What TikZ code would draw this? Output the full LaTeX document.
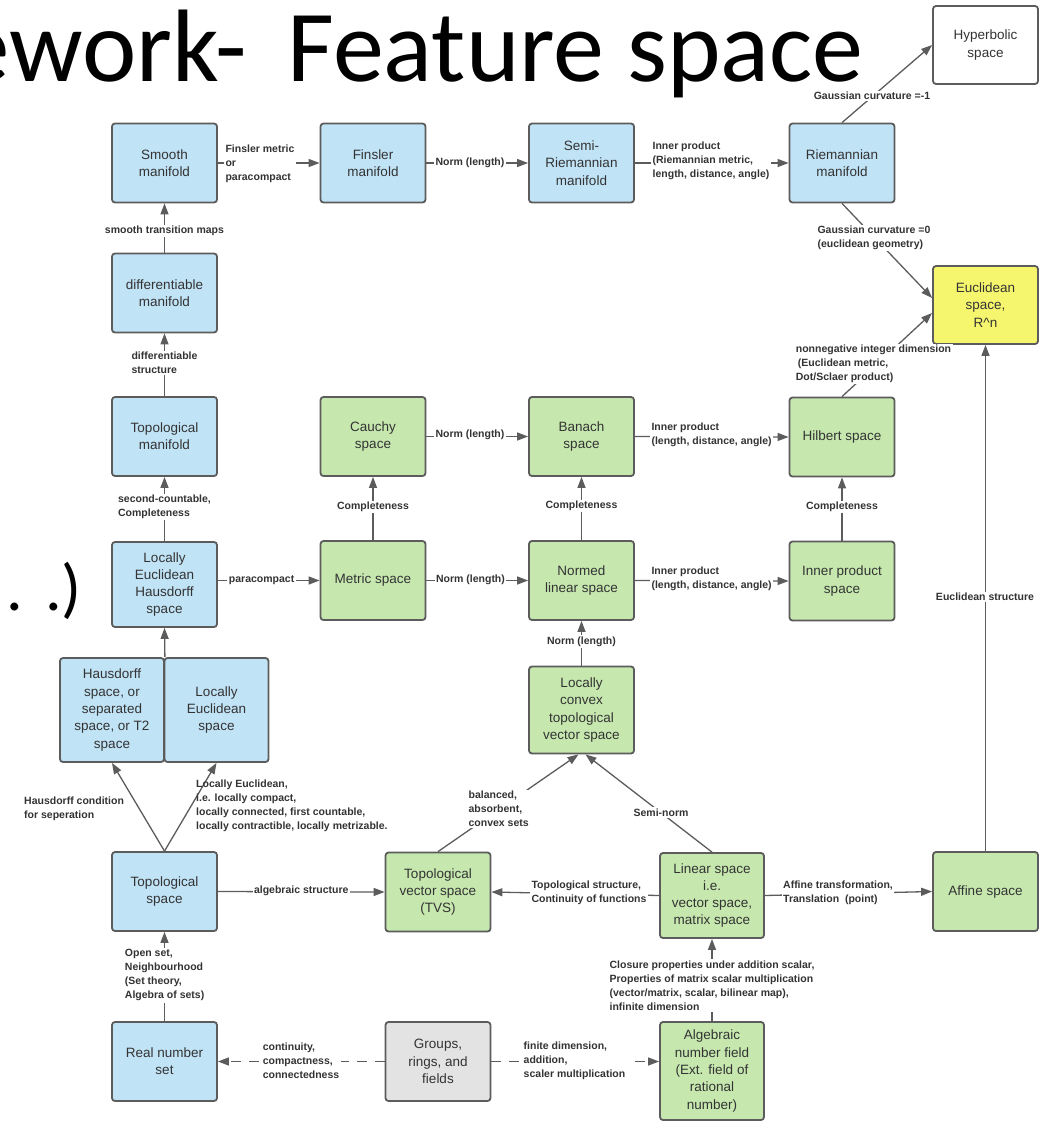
\documentclass[tikz,border=0pt]{standalone}
\usepackage{fontspec}
\setmainfont{Liberation Sans}
\newfontfamily\titlefont{Carlito}
\usetikzlibrary{arrows.meta,calc}
\definecolor{boxblue}{HTML}{C1E3F6}
\definecolor{boxgreen}{HTML}{C6E8AF}
\definecolor{boxyellow}{HTML}{F6F66E}
\definecolor{boxgray}{HTML}{E3E3E3}
\definecolor{edge}{HTML}{5C5C5C}
\definecolor{ink}{HTML}{333333}
\begin{document}
\begin{tikzpicture}[x=1pt,y=-1pt,
  box/.style={draw=edge, line width=1.8pt, rounded corners=3pt,
    minimum width=105pt, minimum height=79pt, inner sep=0pt,
    align=center, text=ink, font=\fontsize{13.5}{17.3}\selectfont},
  blue/.style={box, fill=boxblue},
  green/.style={box, fill=boxgreen},
  arr/.style={draw=edge, line width=1.3pt,
    -{Triangle[length=11pt,width=8pt]}},
  dasharr/.style={arr, dash pattern=on 10pt off 8pt},
  lbl/.style={font=\bfseries\fontsize{10.5}{14}\selectfont, text=ink,
    inner sep=1.5pt, fill=white, align=left},
  note/.style={lbl, fill=none, inner sep=0pt}
]
\useasboundingbox (0,0) rectangle (1048,1122);

% slide title and trailing text
\node[anchor=base east, inner sep=0pt,
  font=\titlefont\fontsize{103}{110}\selectfont] (title1) at (247,81)
  {ework-};
\node[anchor=base east, inner sep=0pt,
  font=\titlefont\fontsize{102}{110}\selectfont] (title2) at (864,81)
  {Feature space};
\node[anchor=base east, inner sep=0pt,
  font=\titlefont\fontsize{66}{70}\selectfont] (ellipsis) at (82,610)
  {.\,\,.)};

% manifolds
\node[blue] (smooth)  at (164.5,163) {Smooth\\manifold};
\node[blue] (finsler) at (373,163)   {Finsler\\manifold};
\node[blue] (semi)    at (581.5,163) {Semi-\\Riemannian\\manifold};
\node[blue] (riem)    at (842,163)   {Riemannian\\manifold};
\node[box, fill=white, minimum height=78pt] (hyper) at (985.5,45) {Hyperbolic\\space};
\node[blue] (diff)    at (164.5,293) {differentiable\\manifold};
\node[box, fill=boxyellow, minimum height=78pt] (eucl) at (985.5,305) {Euclidean\\space,\\R\textasciicircum n};
\node[blue] (topman)  at (164.5,436.5) {Topological\\manifold};

% metric and normed spaces
\node[green] (cauchy)  at (373,436.5)   {Cauchy\\space};
\node[green] (banach)  at (581.5,436.5) {Banach\\space};
\node[green] (hilbert) at (842,437)     {Hilbert space};
\node[blue, minimum height=85pt] (leh) at (164.5,584.5) {Locally\\Euclidean\\Hausdorff\\space};
\node[green] (metric)  at (373,580.5)   {Metric space};
\node[green] (normed)  at (581.5,580.5) {Normed\\linear space};
\node[green] (innerp)  at (842,581)     {Inner product\\space};

% local properties
\node[blue, minimum width=104pt, minimum height=104pt] (hausd) at (112,710)
  {Hausdorff\\space, or\\separated\\space, or T2\\space};
\node[blue, minimum width=104pt, minimum height=104pt] (loce) at (216.5,710)
  {Locally\\Euclidean\\space};
\node[green, minimum height=87pt] (lctvs) at (581.5,710)
  {Locally\\convex\\topological\\vector space};

% foundations
\node[blue]  (topsp)  at (164.5,891.5) {Topological\\space};
\node[green] (tvs)    at (438,892)     {Topological\\vector space\\(TVS)};
\node[green, minimum width=104pt, minimum height=85pt] (linear) at (712,895.5)
  {Linear space\\i.e.\\vector space,\\matrix space};
\node[green] (affine) at (985.5,891.5) {Affine space};
\node[blue]  (real)   at (164.5,1061.5) {Real number\\set};
\node[box, fill=boxgray] (groups) at (438,1061.5) {Groups,\\rings, and\\fields};
\node[green, minimum width=104pt, minimum height=98pt] (alg) at (712,1071)
  {Algebraic\\number field\\(Ext. field of\\rational\\number)};

% connectors along the manifold chain
\draw[arr] (smooth.east) -- (finsler.west);
\node[lbl] (l1) at (260,164) {Finsler metric\\or\\paracompact};
\draw[arr] (finsler.east) -- (semi.west);
\node[lbl] (l2) at (470,163) {Norm (length)};
\draw[arr] (semi.east) -- (riem.west);
\node[lbl] (l3) at (711,161) {Inner product\\(Riemannian metric,\\length, distance, angle)};
\draw[arr] (riem.north) -- (hyper.west);
\node[lbl] (l4) at (872,96) {Gaussian curvature =-1};
\draw[arr] (riem.south) -- ($(eucl.west)+(0,-7)$);
\node[lbl] (l5) at (874,238) {Gaussian curvature =0\\(euclidean geometry)};
\draw[arr] (hilbert.north) -- ($(eucl.west)+(0,8)$);
\node[lbl] (l6) at (873.5,364) {nonnegative integer dimension\\\hspace*{2pt}(Euclidean metric,\\Dot/Sclaer product)};
\draw[arr] (diff.north) -- (smooth.south);
\node[lbl] (l7) at (164.5,231) {smooth transition maps};
\draw[arr] (topman.north) -- (diff.south);
\node[lbl] (l8) at (164.5,363) {differentiable\\structure};
\draw[arr] (leh.north) -- (topman.south);
\node[lbl] (l9) at (164.5,507) {second-countable,\\Completeness};

% completeness and norms
\draw[arr] (metric.north) -- (cauchy.south);
\node[lbl] (l10) at (373,507) {Completeness};
\draw[arr] (normed.north) -- (banach.south);
\node[lbl] (l11) at (581.5,506) {Completeness};
\draw[arr] (innerp.north) -- (hilbert.south);
\node[lbl] (l12) at (842,507) {Completeness};
\draw[arr] (cauchy.east) -- (banach.west);
\node[lbl] (l13) at (470,435) {Norm (length)};
\draw[arr] (banach.east) -- (hilbert.west);
\node[lbl] (l14) at (711.6,435) {Inner product\\(length, distance, angle)};
\draw[arr] (leh.east |- metric.west) -- (metric.west);
\node[lbl] (l15) at (261.6,580) {paracompact};
\draw[arr] (metric.east) -- (normed.west);
\node[lbl] (l16) at (470.5,580) {Norm (length)};
\draw[arr] (normed.east) -- (innerp.west);
\node[lbl] (l17) at (711.6,578.5) {Inner product\\(length, distance, angle)};
\draw[arr] (lctvs.north) -- (normed.south);
\node[lbl] (l18) at (581.5,641.7) {Norm (length)};
\draw[arr] (affine.north) -- (eucl.south);
\node[lbl] (l19) at (985,597) {Euclidean structure};

% from topological space upwards
\draw[arr] (hausd.north east) -- (leh.south);
\draw[arr] (topsp.north) -- (hausd.south);
\node[note, anchor=west] (l20) at (24,809) {Hausdorff condition\\for seperation};
\draw[arr] (topsp.north) -- (loce.south);
\node[note, anchor=west] (l21) at (196,806) {Locally Euclidean,\\i.e. locally compact,\\locally connected, first countable,\\locally contractible, locally metrizable.};
\draw[arr] (tvs.north) -- ($(lctvs.south)+(-3,0)$);
\node[lbl] (l22) at (498.7,809) {balanced,\\absorbent,\\convex sets};
\draw[arr] (linear.north) -- ($(lctvs.south)+(4,0)$);
\node[lbl] (l23) at (661,812.7) {Semi-norm};

% bottom rows
\draw[arr] (topsp.east) -- (tvs.west);
\node[lbl] (l24) at (301.3,890.7) {algebraic structure};
\draw[arr] (linear.west) -- (tvs.east);
\node[lbl] (l25) at (589,892.7) {Topological structure,\\Continuity of functions};
\draw[arr] (linear.east) -- (affine.west);
\node[lbl] (l26) at (838,892.7) {Affine transformation,\\Translation\ \ (point)};
\draw[arr] (real.north) -- (topsp.south);
\node[lbl] (l27) at (164.6,975.4) {Open set,\\Neighbourhood\\(Set theory,\\Algebra of sets)};
\draw[arr] (alg.north) -- (linear.south);
\node[lbl] (l28) at (712,985.8) {Closure properties under addition scalar,\\Properties of matrix scalar multiplication\\(vector/matrix, scalar, bilinear map),\\infinite dimension};
\draw[dasharr] (groups.west) -- (real.east);
\node[lbl] (l29) at (301,1060.7) {continuity,\\compactness,\\connectedness};
\draw[dasharr] (groups.east) -- (alg.west |- groups.east);
\node[lbl] (l30) at (574.5,1060.7) {finite dimension,\\addition,\\scaler multiplication};
\end{tikzpicture}
\end{document}
